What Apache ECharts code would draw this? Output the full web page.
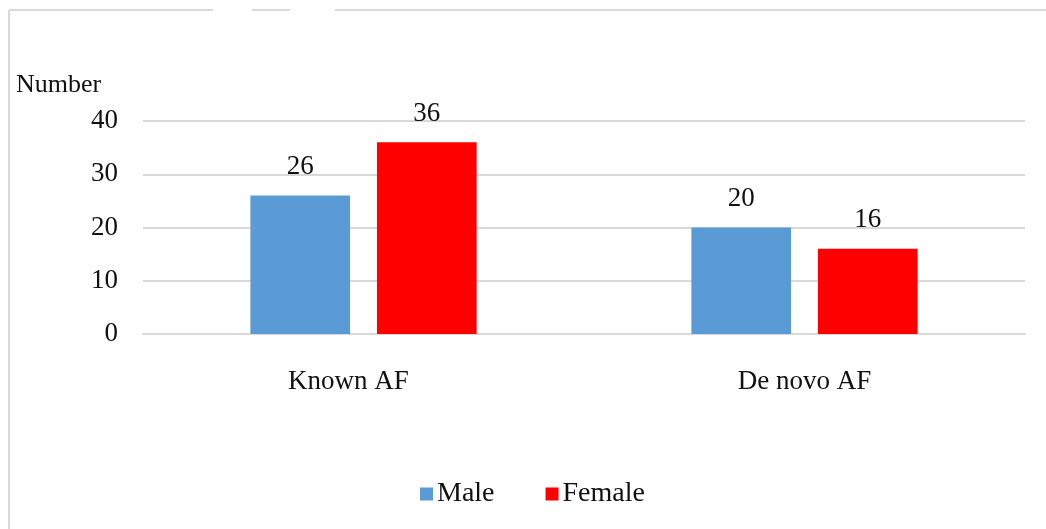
<!DOCTYPE html>
<html>
<head>
<meta charset="utf-8">
<script src="https://cdn.jsdelivr.net/npm/echarts@6/dist/echarts.min.js"></script>
<style>
  html, body { margin: 0; padding: 0; background: #fff; }
  #chart { width: 1046px; height: 529px; }
</style>
</head>
<body>
<div id="chart"></div>
<script>
// data
var categories = ['Known AF', 'De novo AF'];
var maleValues = [26, 20];
var femaleValues = [36, 16];
var seriesNames = ['Male', 'Female'];

var font = '"Liberation Serif", "Times New Roman", serif';
var chart = echarts.init(document.getElementById('chart'));

var option = {
    backgroundColor: '#fff',
    animation: false,
    title: {
        text: 'Number',
        left: 11,
        top: 67,
        textStyle: { fontFamily: font, fontSize: 26, fontWeight: 'normal', color: '#111' }
    },
    color: ['#5B9BD5', '#FF0000'],
    grid: { left: 143, right: 21, top: 121, bottom: 195 },
    legend: {
        data: seriesNames,
        bottom: 16,
        left: 415,
        itemWidth: 13,
        itemHeight: 13,
        itemGap: 51,
        icon: 'rect',
        textStyle: { fontFamily: font, fontSize: 28, color: '#111', padding: [0, 0, 0, -1] }
    },
    xAxis: {
        type: 'category',
        data: categories,
        axisLine: { lineStyle: { color: '#d9d9d9', width: 2 } },
        axisTick: { show: false },
        axisLabel: {
            fontFamily: font, fontSize: 27, color: '#111', margin: 34,
            // the first label sits a little left of its slot in the original
            formatter: function (v, i) { return i === 0 ? '{k|' + v + '}' : v; },
            rich: { k: { fontFamily: font, fontSize: 27, color: '#111', padding: [0, 30, 0, 0] } }
        }
    },
    yAxis: {
        type: 'value',
        min: 0,
        max: 40,
        interval: 10,
        axisLine: { show: false },
        axisTick: { show: false },
        splitLine: { lineStyle: { color: '#d9d9d9', width: 2 } },
        axisLabel: { fontFamily: font, fontSize: 27, color: '#111', margin: 25 }
    },
    series: [
        {
            name: seriesNames[0],
            type: 'bar',
            data: maleValues,
            barWidth: '22.6%',
            barGap: '27%',
            label: { show: true, position: 'top', distance: 15, fontFamily: font, fontSize: 27, color: '#111' }
        },
        {
            name: seriesNames[1],
            type: 'bar',
            data: femaleValues,
            barWidth: '22.6%',
            label: { show: true, position: 'top', distance: 15, fontFamily: font, fontSize: 27, color: '#111' }
        }
    ],
    graphic: [
        // frame of the original picture
        { type: 'line', shape: { x1: 9, y1: 10, x2: 9, y2: 529 }, style: { stroke: '#d9d9d9', lineWidth: 2 } },
        { type: 'line', shape: { x1: 9, y1: 10, x2: 213, y2: 10 }, style: { stroke: '#d9d9d9', lineWidth: 2 } },
        { type: 'line', shape: { x1: 252, y1: 10, x2: 290, y2: 10 }, style: { stroke: '#d9d9d9', lineWidth: 2 } },
        { type: 'line', shape: { x1: 335, y1: 10, x2: 1046, y2: 10 }, style: { stroke: '#d9d9d9', lineWidth: 2 } }
    ]
};
chart.setOption(option);
</script>
</body>
</html>
